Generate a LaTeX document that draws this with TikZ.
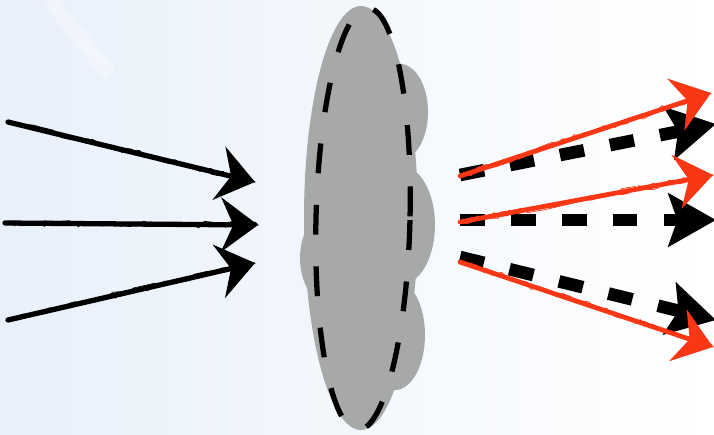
\documentclass[tikz,border=0pt]{standalone}
\usetikzlibrary{
  arrows.meta,
  decorations.pathmorphing
}
\definecolor{cloudgray}{RGB}{166,169,168}
\definecolor{sketchred}{RGB}{250,55,20}
\definecolor{bgblue}{RGB}{232,240,250}

\begin{document}
\begin{tikzpicture}[
  x=0.02cm, y=-0.02cm,
  sketcharrow/.style={line width=3pt, line cap=round,
    -{Stealth[length=21pt, width=31pt, inset=7pt]},
    postaction={draw, -, line width=0.6pt, decorate,
      decoration={random steps, segment length=3pt, amplitude=1.6pt}},
    postaction={draw, -, line width=0.4pt, decorate,
      decoration={random steps, segment length=5pt, amplitude=2pt}}},
  dasharrow/.style={line width=7.2pt, dash pattern=on 14pt off 15pt,
    -{Stealth[length=27pt, width=30pt, inset=5pt]}},
  cloudline/.style={line width=3pt, dash pattern=on 17pt off 18pt}
]

% Background
\useasboundingbox (0,0) rectangle (714,434);
\shade[left color=bgblue, right color=white] (0,0) rectangle (714,434);
\draw[white, line width=9pt, opacity=0.3] (50,0) -- (110,75);

% Cloud
\coordinate (cloud) at (363,219);
\fill[cloudgray]
  (361,218) ellipse (57 and 212)
  (400,112) ellipse (28 and 48)
  (400,225) ellipse (35 and 60)
  (395,335) ellipse (30 and 55)
  (335,258) ellipse (35 and 50)
  (355,350) ellipse (37 and 45);
\draw[cloudline, rotate around={-1.4:(cloud)}] (cloud) ellipse (47 and 211);

% Incoming arrows
\coordinate (in1) at (8,122);
\coordinate (in1tip) at (255,182);
\coordinate (in2) at (5,223);
\coordinate (in2tip) at (258,225);
\coordinate (in3) at (8,320);
\coordinate (in3tip) at (255,263);

\draw[sketcharrow] (in1) -- (in1tip);
\draw[sketcharrow] (in2) -- (in2tip);
\draw[sketcharrow] (in3) -- (in3tip);

% Outgoing dashed arrows
\coordinate (outA) at (460,175);
\coordinate (outAtip) at (716,124);
\coordinate (outB) at (460,220);
\coordinate (outBtip) at (716,220);
\coordinate (outC) at (460,257);
\coordinate (outCtip) at (716,320);

\draw[dasharrow] (outA) -- (outAtip);
\draw[dasharrow] (outB) -- (outBtip);
\draw[dasharrow] (outC) -- (outCtip);

% Outgoing red arrows
\coordinate (red1) at (460,176);
\coordinate (red1tip) at (711,93);
\coordinate (red2) at (460,222);
\coordinate (red2tip) at (713,175);
\coordinate (red3) at (460,262);
\coordinate (red3tip) at (713,347);

\draw[sketcharrow, sketchred, line width=2.7pt] (red1) -- (red1tip);
\draw[sketcharrow, sketchred, line width=2.7pt] (red2) -- (red2tip);
\draw[sketcharrow, sketchred, line width=2.7pt] (red3) -- (red3tip);

\end{tikzpicture}
\end{document}
